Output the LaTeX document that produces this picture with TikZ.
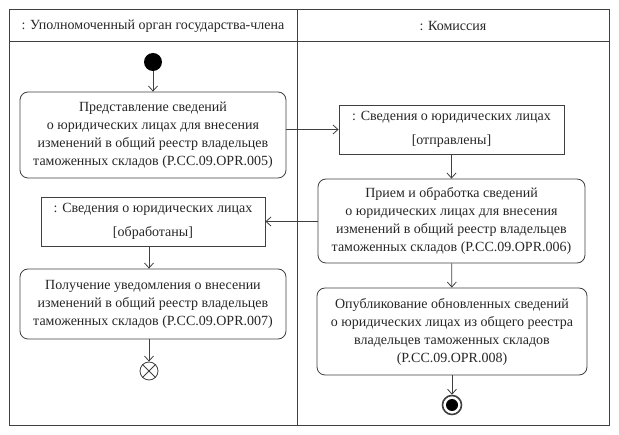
\documentclass[tikz,border=0pt]{standalone}
\usepackage{fontspec}
\setmainfont{Liberation Serif}
\newfontfamily\umlfont{Liberation Serif}
\usetikzlibrary{arrows.meta}
\definecolor{umlline}{HTML}{404040}
\definecolor{umltext}{HTML}{262626}
\begin{document}
\begin{tikzpicture}
    [x=1pt,y=-1pt,line width=0.8pt,
     pre/.style={<-,>={Straight Barb[length=5pt,width=9pt]},draw=umlline},
     act/.style={shape=rectangle,rounded corners=8pt,draw=umlline,align=center,text=umltext,
       inner sep=0pt,font=\umlfont\fontsize{14}{18}\selectfont},
     obj/.style={shape=rectangle,draw=umlline,align=center,text=umltext,
       inner sep=0pt,font=\umlfont\fontsize{14}{18}\selectfont}]
    \useasboundingbox (0,0) rectangle (619,435);
    % swimlanes
    \draw [umlline] (9,9) rectangle (609,425);
    \draw [umlline] (297,9) -- (297,425);
    \draw [umlline] (9,41) -- (609,41);
    \node [text=umltext,font=\umlfont\fontsize{14}{15}\selectfont] (laneA) at (153,26) {: Уполномоченный орган государства-члена};
    \node [text=umltext,font=\umlfont\fontsize{14}{15}\selectfont] (laneB) at (453,26) {: Комиссия};
    % left lane
    \node [shape=circle,fill=black,minimum size=18pt,inner sep=0pt] (start) at (153,62) {};
    \node [act,minimum width=266pt,minimum height=86pt] (opr5) at (153,135)
      {Представление сведений\\ о юридических лицах для внесения\\ изменений в общий реестр владельцев\\ таможенных складов (P.CC.09.OPR.005)}
      edge [pre] (start);
    \node [obj,minimum width=225pt,minimum height=49pt] (sent) at (451.5,129.5)
      {: Сведения о юридических лицах\\[6pt]{[отправлены]}};
    \draw [pre] (sent.west) -- (opr5.east |- sent.west);
    % right lane
    \node [act,minimum width=267pt,minimum height=84pt] (opr6) at (451.5,221)
      {Прием и обработка сведений\\ о юридических лицах для внесения\\ изменений в общий реестр владельцев\\ таможенных складов (P.CC.09.OPR.006)}
      edge [pre] (sent);
    \node [obj,minimum width=224pt,minimum height=49pt] (recvd) at (153,221.5)
      {: Сведения о юридических лицах\\[6pt]{[обработаны]}};
    \draw [pre] (recvd.east) -- (opr6.west |- recvd.east);
    \node [act,minimum width=270pt,minimum height=87pt] (opr8) at (452,331.5)
      {Опубликование обновленных сведений\\ о юридических лицах из общего реестра\\ владельцев таможенных складов\\ (P.CC.09.OPR.008)}
      edge [pre] (opr6);
    \node [shape=circle,draw=umlline,line width=1.6pt,minimum size=19pt,inner sep=0pt] (actend) at (452,405) {}
      edge [pre] (opr8);
    \node [shape=circle,fill=black,minimum size=12pt,inner sep=0pt] (actendin) at (actend) {};
    % back in left lane
    \node [act,minimum width=266pt,minimum height=70pt] (opr7) at (153,304)
      {Получение уведомления о внесении\\ изменений в общий реестр владельцев\\ таможенных складов (P.CC.09.OPR.007)};
    \node [shape=circle,draw=umlline,minimum size=18pt,inner sep=0pt] (flowend) at (149,371) {};
    \draw [umlline] (flowend.north west) -- (flowend.south east)
      (flowend.north east) -- (flowend.south west);
    \draw [pre] (opr7.north -| flowend) -- (recvd.south -| flowend);
    \draw [pre] (flowend) -- (opr7.south -| flowend);
\end{tikzpicture}
\end{document}
